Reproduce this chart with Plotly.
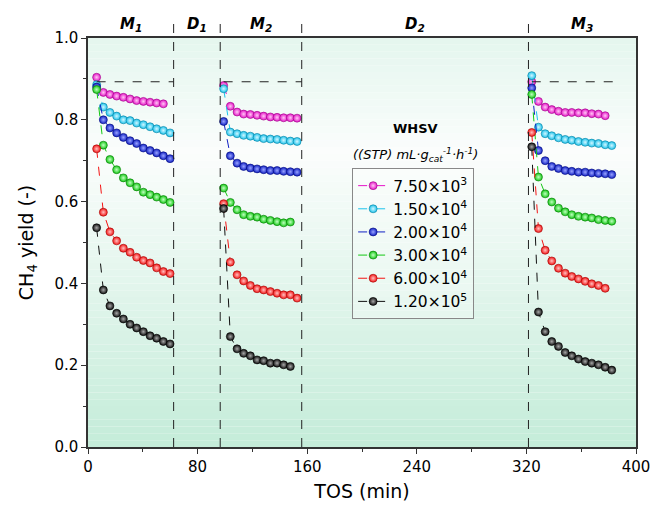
import plotly.graph_objects as go

# ---------------- data ----------------
x_m1 = [6.3, 11.2, 16.0, 20.9, 25.8, 30.7, 35.5, 40.4, 45.3, 50.1, 55.0, 59.9]
x_m2 = [99.0, 103.9, 108.8, 113.6, 118.5, 123.4, 128.2, 133.1, 138.0, 142.8, 147.7, 152.6]
x_m3 = [323.9, 328.8, 333.7, 338.5, 343.4, 348.3, 353.1, 358.0, 362.9, 367.7, 372.6, 377.5, 382.3]

whsv_labels = ["7.50×10<sup>3</sup>", "1.50×10<sup>4</sup>", "2.00×10<sup>4</sup>",
               "3.00×10<sup>4</sup>", "6.00×10<sup>4</sup>", "1.20×10<sup>5</sup>"]

y_7500_m1 = [0.904, 0.867, 0.862, 0.858, 0.855, 0.851, 0.847, 0.845, 0.843, 0.841, 0.839]
y_7500_m2 = [0.884, 0.833, 0.819, 0.814, 0.813, 0.811, 0.809, 0.807, 0.806, 0.805, 0.805, 0.804]
y_7500_m3 = [0.893, 0.845, 0.831, 0.825, 0.821, 0.818, 0.818, 0.817, 0.817, 0.815, 0.814, 0.810]

y_15000_m1 = [0.886, 0.831, 0.818, 0.809, 0.800, 0.798, 0.792, 0.788, 0.783, 0.778, 0.774, 0.768]
y_15000_m2 = [0.876, 0.770, 0.766, 0.762, 0.760, 0.757, 0.754, 0.753, 0.752, 0.750, 0.748, 0.747]
y_15000_m3 = [0.908, 0.782, 0.766, 0.761, 0.756, 0.752, 0.750, 0.747, 0.745, 0.743, 0.742, 0.739, 0.737]

y_20000_m1 = [0.880, 0.800, 0.780, 0.768, 0.757, 0.749, 0.742, 0.731, 0.725, 0.719, 0.712, 0.705]
y_20000_m2 = [0.796, 0.712, 0.694, 0.686, 0.682, 0.680, 0.678, 0.676, 0.676, 0.674, 0.673, 0.672]
y_20000_m3 = [0.878, 0.725, 0.700, 0.686, 0.681, 0.676, 0.674, 0.672, 0.672, 0.670, 0.669, 0.668, 0.666]

y_30000_m1 = [0.874, 0.738, 0.703, 0.678, 0.658, 0.646, 0.636, 0.623, 0.617, 0.611, 0.605, 0.598]
y_30000_m2 = [0.633, 0.598, 0.580, 0.568, 0.564, 0.562, 0.557, 0.554, 0.551, 0.548, 0.550]
y_30000_m3 = [0.862, 0.660, 0.619, 0.599, 0.584, 0.575, 0.568, 0.564, 0.562, 0.560, 0.556, 0.554, 0.552]

y_60000_m1 = [0.729, 0.574, 0.526, 0.504, 0.486, 0.476, 0.464, 0.456, 0.450, 0.438, 0.429, 0.424]
y_60000_m2 = [0.595, 0.452, 0.421, 0.406, 0.395, 0.387, 0.384, 0.380, 0.376, 0.372, 0.372, 0.364]
y_60000_m3 = [0.769, 0.534, 0.481, 0.455, 0.437, 0.425, 0.417, 0.411, 0.405, 0.399, 0.395, 0.388]

y_120000_m1 = [0.536, 0.384, 0.345, 0.327, 0.313, 0.300, 0.291, 0.282, 0.272, 0.266, 0.258, 0.252]
y_120000_m2 = [0.583, 0.270, 0.240, 0.229, 0.223, 0.213, 0.211, 0.205, 0.205, 0.201, 0.197]
y_120000_m3 = [0.734, 0.330, 0.282, 0.258, 0.246, 0.231, 0.223, 0.215, 0.209, 0.205, 0.201, 0.195, 0.188]

series = [
    (y_7500_m1, y_7500_m2, y_7500_m3),
    (y_15000_m1, y_15000_m2, y_15000_m3),
    (y_20000_m1, y_20000_m2, y_20000_m3),
    (y_30000_m1, y_30000_m2, y_30000_m3),
    (y_60000_m1, y_60000_m2, y_60000_m3),
    (y_120000_m1, y_120000_m2, y_120000_m3),
]

phase_bounds = [62.5, 96.5, 156.0, 321.5]
phase_names = ["<b><i>M<sub>1</sub></i></b>", "<b><i>D<sub>1</sub></i></b>", "<b><i>M<sub>2</sub></i></b>",
               "<b><i>D<sub>2</sub></i></b>", "<b><i>M<sub>3</sub></i></b>"]
ref_yield = 0.893
ref_spans = [(6.3, 62.5), (99.0, 156.0), (323.9, 385.0)]

# ---------------- style ----------------
colors = ["#e614c8", "#1cc3ec", "#1020c4", "#14c814", "#f41414", "#101010"]
centers = ["#ffc8f4", "#d2f6ff", "#9aa4ff", "#c0ffc0", "#ffc0c0", "#a8a8a8"]
edges_c = ["#9a0a84", "#0a7fa0", "#060e7a", "#0a7a0a", "#a00a0a", "#000000"]
FONT = "DejaVu Sans"

fig = go.Figure()

for i, (segs, col, cen, ec, name) in enumerate(zip(series, colors, centers, edges_c, whsv_labels)):
    xs, ys = [], []
    for xseg, yseg in zip((x_m1, x_m2, x_m3), segs):
        xs += list(xseg[:len(yseg)]) + [None]
        ys += list(yseg) + [None]
    fig.add_trace(go.Scatter(
        x=xs, y=ys, mode="lines+markers", name=name, legendgroup=f"g{i}",
        connectgaps=False,
        line=dict(color=col, width=1, dash="dash"),
        marker=dict(size=8, color=col, gradient=dict(type="radial", color=cen),
                    line=dict(width=0.6, color=ec)),
    ))

# background gradient strips
def lerp(c1, c2, t):
    return tuple(round(a + (b - a) * t) for a, b in zip(c1, c2))

top_c, mid_c, bot_c = (228, 246, 238), (251, 253, 252), (196, 236, 217)
n = 60
shapes = []
for k in range(n):
    y0 = k / n
    y1 = (k + 1) / n
    yc = (y0 + y1) / 2
    if yc < 0.72:
        c = lerp(bot_c, mid_c, yc / 0.72)
    else:
        c = lerp(mid_c, top_c, (yc - 0.72) / 0.28)
    shapes.append(dict(type="rect", xref="paper", yref="y", x0=0, x1=1, y0=y0, y1=y1,
                       fillcolor="rgb(%d,%d,%d)" % c, line=dict(width=0), layer="below"))

for xb in phase_bounds:
    shapes.append(dict(type="line", xref="x", yref="paper", x0=xb, x1=xb, y0=0, y1=1.055,
                       line=dict(color="#222", width=1, dash="dash")))
for a, b in ref_spans:
    shapes.append(dict(type="line", xref="x", yref="y", x0=a, x1=b, y0=ref_yield, y1=ref_yield,
                       line=dict(color="#222", width=1, dash="dash")))

bounds = [0] + phase_bounds + [400]
annotations = []
for j, name in enumerate(phase_names):
    annotations.append(dict(x=(bounds[j] + bounds[j + 1]) / 2, y=1.0, xref="x", yref="paper",
                            yanchor="bottom", yshift=2, text=name, showarrow=False,
                            font=dict(family=FONT, size=15, color="#000")))

annotations.append(dict(x=0.597, y=0.778, xref="paper", yref="paper", text="<b>WHSV</b>",
                        yanchor="middle", showarrow=False, font=dict(family=FONT, size=13, color="#000")))
annotations.append(dict(x=0.597, y=0.714, xref="paper", yref="paper",
                        text="<i>((STP) mL·g<sub>cat</sub><sup>-1</sup>·h<sup>-1</sup>)</i>",
                        yanchor="middle", showarrow=False, font=dict(family=FONT, size=13, color="#000")))

fig.update_layout(
    width=656, height=506,
    margin=dict(l=88, r=20, t=38, b=59),
    paper_bgcolor="white", plot_bgcolor="white",
    font=dict(family=FONT, color="#000"),
    shapes=shapes, annotations=annotations,
    legend=dict(x=0.482, y=0.682, xanchor="left", yanchor="top",
                bgcolor="rgba(255,255,255,0.3)", bordercolor="#888", borderwidth=1,
                font=dict(family=FONT, size=15.5), tracegroupgap=0, itemwidth=30),
    xaxis=dict(range=[0, 400], tickvals=[0, 80, 160, 240, 320, 400], ticks="outside",
               ticklen=5, tickwidth=1.2, tickcolor="#333", automargin=False,
               minor=dict(tickvals=[40, 120, 200, 280, 360], ticks="outside", ticklen=3, tickcolor="#333"),
               showline=True, linecolor="#333", linewidth=1.5, mirror=True,
               showgrid=False, zeroline=False,
               tickfont=dict(family=FONT, size=15),
               title=dict(text="TOS (min)", font=dict(family=FONT, size=19), standoff=10)),
    yaxis=dict(range=[0, 1.0], tickvals=[0, 0.2, 0.4, 0.6, 0.8, 1.0], tickformat=".1f",
               ticks="outside", ticklen=5, tickwidth=1.2, tickcolor="#333", automargin=False,
               minor=dict(tickvals=[0.1, 0.3, 0.5, 0.7, 0.9], ticks="outside", ticklen=3, tickcolor="#333"),
               showline=True, linecolor="#333", linewidth=1.5, mirror=True,
               showgrid=False, zeroline=False,
               tickfont=dict(family=FONT, size=15),
               title=dict(text="CH<sub>4</sub> yield (-)", font=dict(family=FONT, size=19), standoff=16)),
)

fig.write_html("out.html")
